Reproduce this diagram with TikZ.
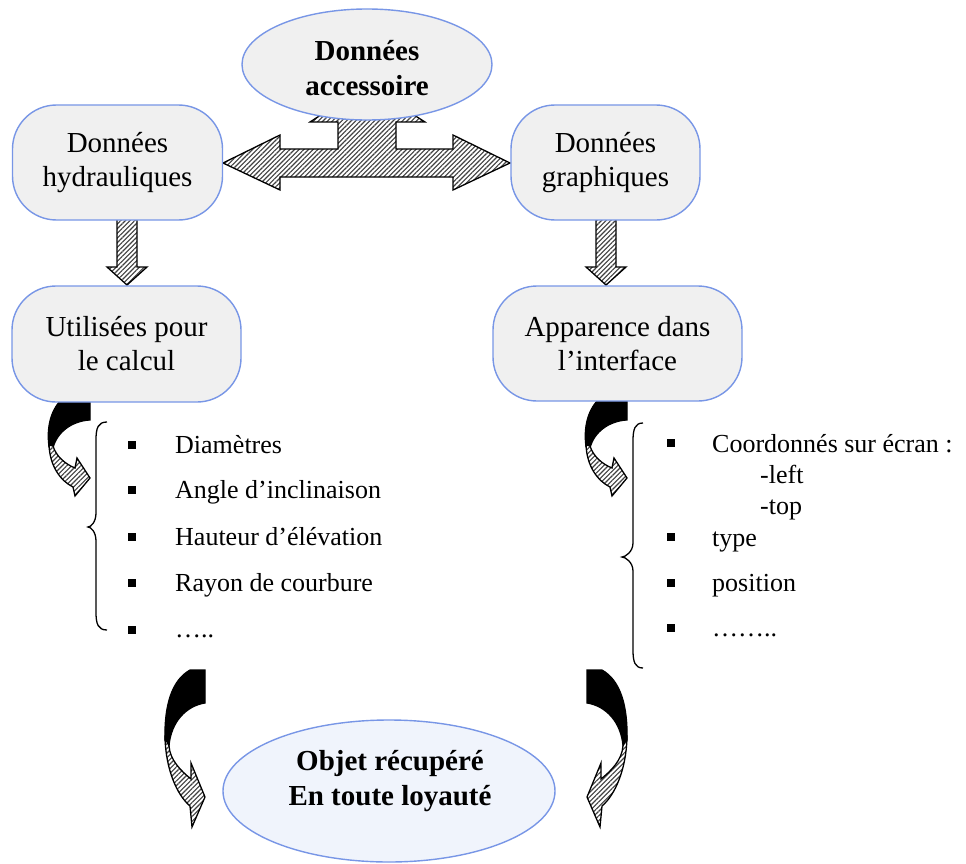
\documentclass[tikz,border=0pt]{standalone}
\usepackage{fontspec}
\setmainfont{Liberation Serif}
\usetikzlibrary{shapes.geometric,patterns.meta}
\definecolor{bord}{RGB}{120,150,230}
\definecolor{boxfill}{RGB}{240,240,240}
\definecolor{objfill}{RGB}{240,244,252}
\tikzset{
  box/.style={draw=bord, line width=1.4pt, fill=boxfill, rounded corners=44pt, inner sep=0pt,
    align=center, font=\fontsize{29}{34}\selectfont},
  oval/.style={ellipse, draw=bord, line width=1.4pt, inner sep=0pt},
  boldtxt/.style={align=center, font=\fontsize{29}{35}\selectfont\bfseries, inner sep=0pt},
  hatch/.style={draw=black, line width=1.3pt, line join=miter, preaction={fill=white},
    pattern={Lines[angle=45,distance=3.3pt,line width=1.1pt]}, pattern color=black!75},
  backside/.style={draw=black, line width=1.2pt, fill=black},
  item/.style={anchor=base west, inner sep=0pt, font=\fontsize{26}{30}\selectfont},
  bul/.style={fill=black, minimum size=7.5pt, inner sep=0pt},
  brace/.style={draw=black, line width=1.3pt}
}
\begin{document}
\begin{tikzpicture}[x=1pt,y=-1pt]
\useasboundingbox (0,0) rectangle (966,864);
% three-way arrow
\draw[hatch] (223,163) -- (280,135) -- (280,149) -- (338,149) -- (338,122) -- (310,122)
  -- (367,85) -- (425,122) -- (396,122) -- (396,149) -- (453,149) -- (453,135)
  -- (510,163) -- (453,190) -- (453,177) -- (280,177) -- (280,190) -- cycle;
% down arrows
\draw[hatch] (117,215) -- (137,215) -- (137,267) -- (147,267) -- (127,285) -- (107,267) -- (117,267) -- cycle;
\draw[hatch] (596,215) -- (616,215) -- (616,267) -- (626,267) -- (606,285) -- (586,267) -- (596,267) -- cycle;
% small curved arrows
\foreach \dx in {0,537}{
\begin{scope}[xshift=\dx pt]
\draw[backside] (63,398) -- (90,398) -- (90,420) .. controls (72,421) and (57,432) .. (53,448)
  -- (49,447) .. controls (46,425) and (52,408) .. (63,398) -- cycle;
\draw[hatch] (49,445) .. controls (50,467) and (61,481) .. (73,487) -- (75,496) -- (90,478)
  -- (77,458) -- (75,468) .. controls (65,464) and (56,456) .. (53,446) -- cycle;
\end{scope}}
% big curved arrows
\foreach \sx/\sc in {0/1,792/-1}{
\begin{scope}[xshift=\sx pt, xscale=\sc]
\draw[backside] (190,670) -- (205,670) -- (205,703) .. controls (186,706) and (171,722) .. (169,746)
  -- (165,740) .. controls (164,705) and (172,680) .. (190,670) -- cycle;
\draw[hatch] (165,738) .. controls (166,770) and (177,795) .. (190,806) -- (192,827) -- (205,797)
  -- (191,763) -- (191,779) .. controls (181,771) and (170,760) .. (169,746) -- cycle;
\end{scope}}
% boxes
\node[oval, fill=boxfill, minimum width=250pt, minimum height=111pt] (acc) at (367,64.5) {};
\node[boldtxt] (acct) at (367,68) {Données\\accessoire};
\node[box, minimum width=210pt, minimum height=115pt] (hyd) at (117.5,162.5) {Données\\hydrauliques};
\node[box, minimum width=189pt, minimum height=115pt] (gra) at (605.5,162.5) {Données\\graphiques};
\node[box, minimum width=229pt, minimum height=116pt] (cal) at (126.5,344) {Utilisées pour\\le calcul};
\node[box, minimum width=249pt, minimum height=115pt] (app) at (617.5,343.5) {Apparence dans\\l’interface};
\node[oval, fill=objfill, minimum width=332pt, minimum height=142pt] (obj) at (389,791) {};
\node[boldtxt] (objt) at (390,781) {Objet récupéré\\En toute loyauté};
% braces
\draw[brace] (107,422) .. controls (98,422) and (96,428) .. (96,440) -- (96,513)
  .. controls (96,522) and (91,527) .. (88,527) .. controls (91,527) and (96,532) .. (96,541)
  -- (96,612) .. controls (96,624) and (98,630) .. (107,630);
\draw[brace] (643,423) .. controls (635,423) and (633,429) .. (633,441) -- (633,543)
  .. controls (633,552) and (625,557) .. (622,557) .. controls (625,557) and (633,562) .. (633,571)
  -- (633,650) .. controls (633,662) and (635,668) .. (643,668);
% left list
\node[bul] (lb1) at (132,445) {};
\node[bul] (lb2) at (132,490) {};
\node[bul] (lb3) at (132,537) {};
\node[bul] (lb4) at (132,583) {};
\node[bul] (lb5) at (132,630) {};
\node[item] (l1) at (175,453) {Diamètres};
\node[item] (l2) at (175,498) {Angle d’inclinaison};
\node[item] (l3) at (175,545) {Hauteur d’élévation};
\node[item] (l4) at (175,591) {Rayon de courbure};
\node[item] (l5) at (175,637) {…..};
% right list
\node[bul] (rb1) at (671,443) {};
\node[bul] (rb2) at (671,537) {};
\node[bul] (rb3) at (671,583) {};
\node[bul] (rb4) at (671,628) {};
\node[item] (r1) at (712,452) {Coordonnés sur écran :};
\node[item] (r1a) at (760,483) {-left};
\node[item] (r1b) at (760,514) {-top};
\node[item] (r2) at (712,546) {type};
\node[item] (r3) at (712,591) {position};
\node[item] (r4) at (712,636) {……..};
\end{tikzpicture}
\end{document}
